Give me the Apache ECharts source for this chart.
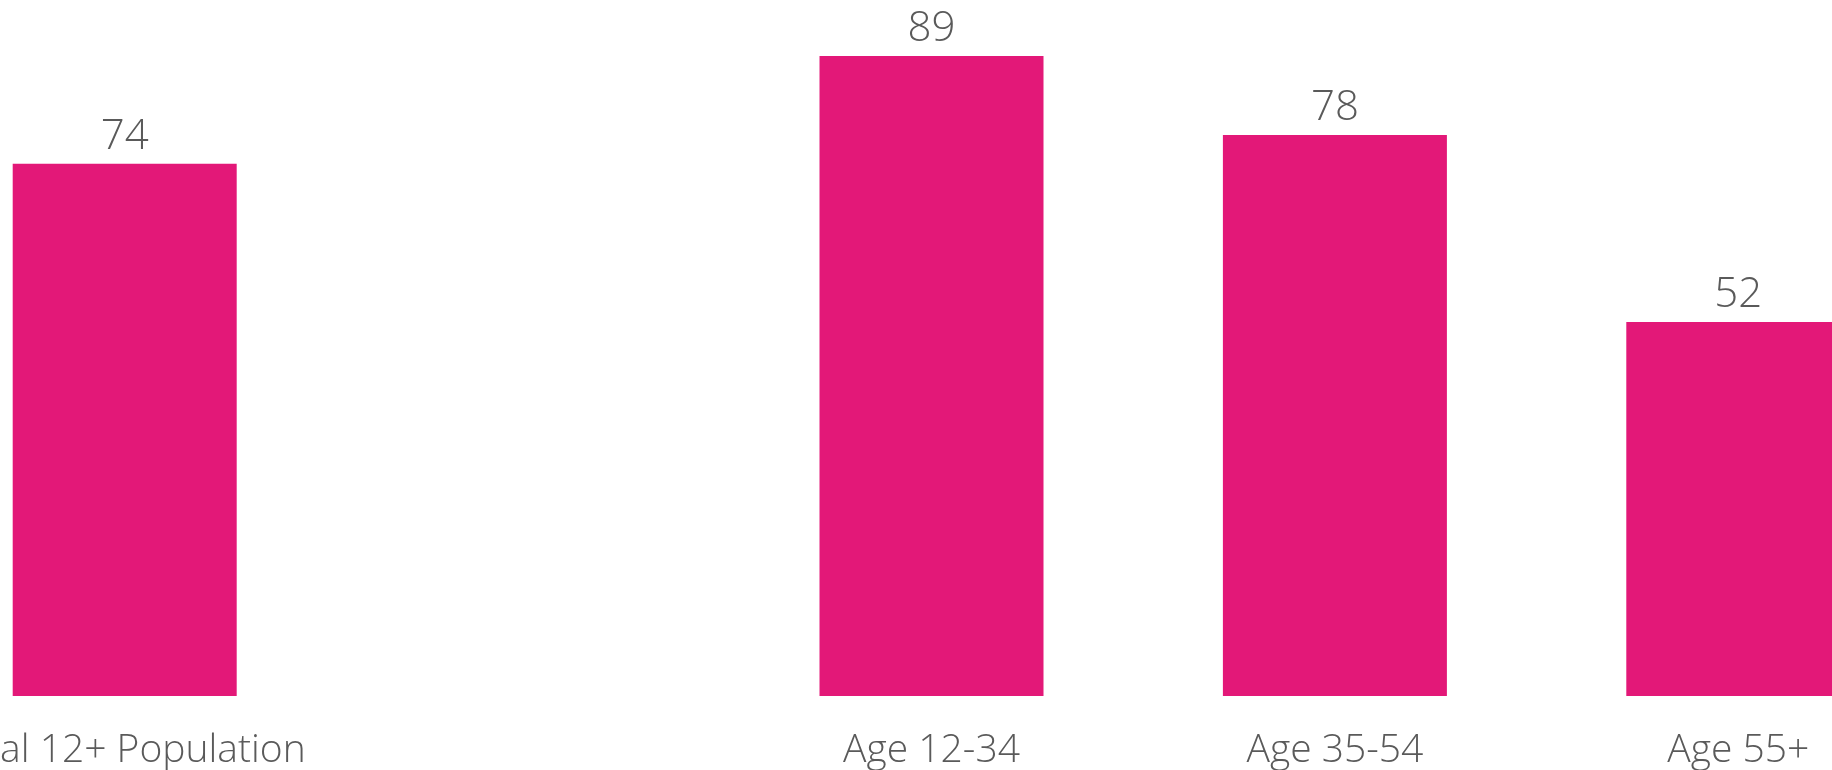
<!DOCTYPE html>
<html>
<head>
<meta charset="utf-8">
<style>
html,body{margin:0;padding:0;background:#fff;overflow:hidden;width:1832px;height:770px;}
#chart{position:absolute;left:-77px;top:0;width:2017px;height:770px;}
</style>
<script src="https://cdn.jsdelivr.net/npm/echarts@6/dist/echarts.min.js"></script>
</head>
<body>
<div id="chart"></div>
<script>
var categories = ["Total 12+ Population", "", "Age 12-34", "Age 35-54", "Age 55+"];
var values = [74, null, 89, 78, 52];

var chart = echarts.init(document.getElementById('chart'));
chart.setOption({
  animation: false,
  backgroundColor: '#ffffff',
  grid: { left: 0, right: 0, top: 48.7, bottom: 73.3, containLabel: false },
  xAxis: {
    type: 'category',
    data: categories,
    axisLine: { show: false },
    axisTick: { show: false },
    axisLabel: {
      interval: 0,
      margin: 35,
      fontFamily: 'Open Sans',
      fontWeight: 300,
      fontSize: 39,
      color: '#5a5a5a'
    }
  },
  yAxis: {
    type: 'value',
    min: 0,
    max: 90,
    show: false,
    splitLine: { show: false }
  },
  series: [{
    type: 'bar',
    data: values,
    barWidth: 224,
    itemStyle: { color: '#E31878' },
    label: {
      show: true,
      position: 'top',
      distance: 6,
      fontFamily: 'Open Sans',
      fontWeight: 300,
      fontSize: 42,
      color: '#5a5a5a'
    }
  }]
});
</script>
</body>
</html>
